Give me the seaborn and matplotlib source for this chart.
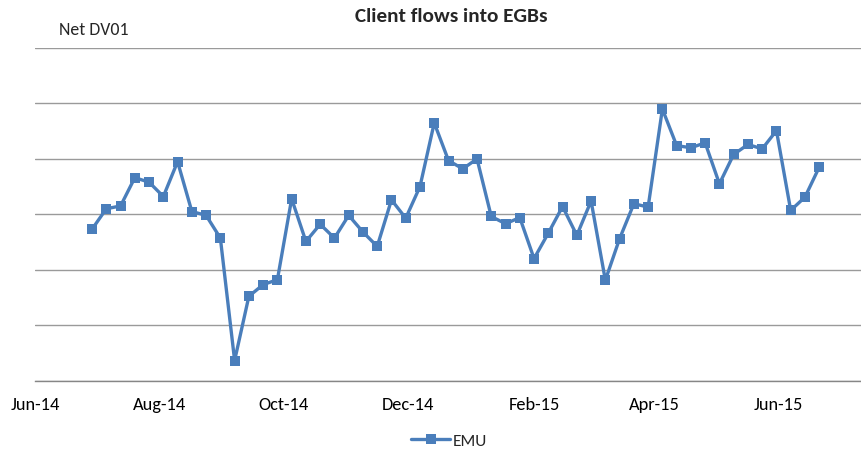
import matplotlib
matplotlib.use("Agg")
import matplotlib.pyplot as plt
import matplotlib.dates as mdates
import seaborn as sns
import pandas as pd
import numpy as np

# ---- data ----
series_name = "EMU"
start_date = "2014-06-29"
emu_values = [-27, 10, 15, 66, 58, 32, 95, 5, -2, -43,
              -264, -148, -127, -118, 28, -49, -18, -43, -2, -32,
              -58, 26, -7, 50, 165, 97, 82, 100, -4, -17,
              -6, -80, -34, 14, -38, 24, -119, -44, 19, 13,
              190, 124, 120, 129, 55, 108, 126, 118, 151, 7,
              31, 85]
dates = pd.date_range(start_date, periods=len(emu_values), freq="7D")
title_text = "Client flows into EGBs"
ylabel_text = "Net DV01"
y_ticks = [-300, -200, -100, 0, 100, 200, 300]
x_start = "2014-06-01"
x_end = "2015-07-12"

df = pd.DataFrame({"date": dates, "value": emu_values, "series": series_name})

sns.set_theme(style="white")
fonts = ["Carlito", "Liberation Sans Narrow", "Liberation Sans", "DejaVu Sans"]
plt.rcParams["font.family"] = fonts

W, H = 862, 453
fig = plt.figure(figsize=(W / 100, H / 100), dpi=100)
ax = fig.add_axes([35 / W, 1 - 380.5 / H, 1 - 35 / W, (380.5 - 47.5) / H])

color = "#4A7EBB"
sns.lineplot(data=df, x="date", y="value", hue="series", palette=[color],
             marker="s", markersize=6.5, markeredgewidth=0, linewidth=2.4,
             ax=ax, legend=True)

ax.set_xlim(pd.Timestamp(x_start), pd.Timestamp(x_end))
ax.set_ylim(y_ticks[0], y_ticks[-1] + 1)
ax.set_yticks(y_ticks)
ax.set_yticklabels([])
ax.tick_params(axis="y", length=0)
ax.yaxis.grid(True, color="#9a9a9a", linewidth=1)
ax.xaxis.grid(False)

ax.xaxis.set_major_locator(mdates.MonthLocator(bymonth=[2, 4, 6, 8, 10, 12]))
ax.xaxis.set_major_formatter(mdates.DateFormatter("%b-%y"))
ax.tick_params(axis="x", length=0, pad=12, labelsize=13.2, colors="#000000")
for lbl in ax.get_xticklabels():
    lbl.set_family(fonts)

for s in ["left", "top", "right"]:
    ax.spines[s].set_visible(False)
ax.spines["bottom"].set_color("#868686")
ax.spines["bottom"].set_linewidth(1)
ax.set_xlabel("")
ax.set_ylabel("")

fig.text(451 / W, 1 - 17 / H, title_text, ha="center", va="center",
         fontsize=15.3, fontweight="bold", family=fonts)
fig.text(59 / W, 1 - 30 / H, ylabel_text, ha="left", va="center",
         fontsize=12.8, family=fonts)

handles, labels = ax.get_legend_handles_labels()
ax.legend(handles, labels, loc="center", bbox_to_anchor=(449 / W, 1 - 441 / H),
          bbox_transform=fig.transFigure, frameon=False, fontsize=12.5,
          handlelength=2.3, handletextpad=0.15, borderpad=0)

fig.savefig("out.png", dpi=100)
